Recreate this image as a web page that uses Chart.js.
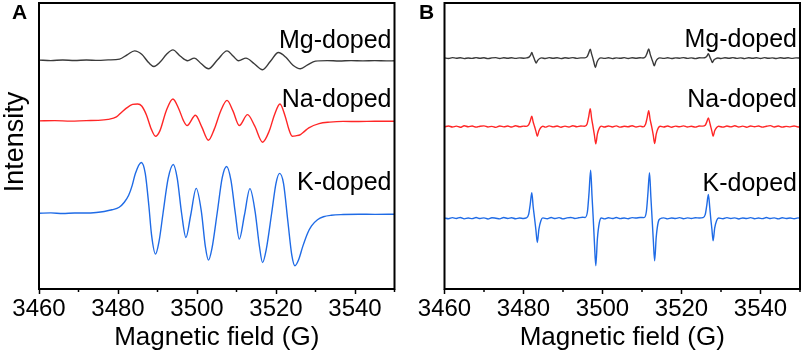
<!DOCTYPE html>
<html lang="en">
  <head>
    <meta charset="utf-8" />
    <title>EPR spectra</title>
    <style>
      * {
        margin: 0;
        padding: 0;
      }
      body {
        width: 803px;
        height: 356px;
        background: white;
        position: relative;
        overflow: hidden;
      }
      canvas {
        position: absolute;
        top: 0;
      }
      #chartA {
        left: 0;
      }
      #chartB {
        left: 400px;
      }
    </style>
  </head>
  <body>
    <canvas id="chartA" width="400" height="356"></canvas>
    <canvas id="chartB" width="403" height="356"></canvas>

    <script src="https://cdn.jsdelivr.net/npm/chart.js@4.4.0/dist/chart.umd.min.js"></script>

    <script>
      // data block: [field (G), intensity relative to own baseline]
      const names = ["Mg-doped", "Na-doped", "K-doped"];
      const fieldTicks = [3460, 3480, 3500, 3520, 3540];

      const fieldA_Mg = [
        [3460, 0.2], [3463, -0.3], [3466, 0.3], [3469, -0.2], [3472, 0.3], [3475, -0.1],
        [3477.5, 0.4], [3480.4, 1.2], [3482.3, 5.5], [3484.2, 9.5], [3486, 6], [3487.8, -2.5],
        [3489.1, -6.2], [3490.6, -2], [3492.3, 6], [3493.9, 10.5], [3495.8, 4], [3497.6, -0.5],
        [3499.3, 2.2], [3501.1, -3.5], [3502.9, -8.5], [3505.2, 0.5], [3507.6, 9.5], [3509.2, 4],
        [3510.5, -0.5], [3512.4, 2.2], [3514.5, -3.5], [3516.6, -9.5], [3518.6, -1], [3520.6, 7.8],
        [3522.5, 3], [3524.3, -5], [3526.2, -8.5], [3528, -4.5], [3530, -0.8], [3533, -0.3],
        [3536, -0.7], [3539, -0.3], [3542, -0.6], [3545, -0.3], [3548, -0.6], [3550, -0.5],
      ];
      const fieldA_Na = [
        [3460, 0], [3464, 0.3], [3468, -0.2], [3472, 0.3], [3475, 0.5], [3477.5, 1.5],
        [3479.6, 4], [3481, 9], [3482.2, 13], [3483.7, 16.5], [3485, 17], [3486, 15],
        [3487.2, 6], [3488.4, -8], [3489.5, -15.4], [3490.6, -10], [3492.2, 10], [3493.9, 22],
        [3495.4, 12], [3496.6, 0], [3497.5, -4.7], [3499.6, 5.6], [3501.2, -6], [3502.9, -19.4],
        [3504.4, -8], [3506, 10], [3507.6, 20.6], [3509.1, 10], [3510.7, -4.7], [3512.8, 6.3],
        [3514.6, -5], [3516.6, -21.4], [3518.3, -10], [3519.6, 6], [3521, 17], [3522.3, 5],
        [3523.3, -9], [3524.1, -15.4], [3525, -15], [3526.2, -13.7], [3527.2, -10.5], [3528.3, -7],
        [3530.9, -2.7], [3533.6, -1.2], [3537, -0.5], [3541, -0.6], [3545, -0.3], [3550, -0.4],
      ];
      const fieldA_K = [
        [3460, 0], [3463, 0.4], [3466, -0.3], [3469, 0.3], [3472, 0.2], [3474.5, 0.8],
        [3476.5, 1.8], [3478.5, 3.5], [3480.3, 6], [3481.6, 11], [3482.7, 18], [3483.6, 28],
        [3484.4, 40], [3485.9, 51], [3486.9, 40], [3487.8, 8], [3488.5, -22], [3489.5, -41],
        [3490.4, -28], [3491.4, 0], [3492.7, 35], [3494, 49], [3495, 35], [3496.1, 0],
        [3497.2, -24.3], [3498.4, -2], [3499.8, 25], [3501.1, 2], [3502.1, -33], [3502.9, -47],
        [3503.8, -35], [3505.1, 0], [3506.4, 36], [3507.5, 47], [3508.6, 33], [3509.7, 0],
        [3510.7, -26], [3512, -2], [3513.4, 24.7], [3514.7, 2], [3515.8, -33], [3516.6, -49.5],
        [3517.5, -37], [3518.9, 0], [3520, 30], [3520.9, 40], [3521.9, 30], [3523, -8],
        [3524, -42], [3524.8, -52.7], [3525.7, -47], [3526.8, -33], [3528, -20], [3529, -12.7],
        [3530.5, -6.5], [3532, -3.5], [3534, -2], [3537, -1.3], [3541, -1], [3545, -1.1], [3550, -1],
      ];

      const fieldB_Mg = [
        [3460, 0.2], [3461, -0.4], [3462, 0.5], [3463, -0.1], [3464, 0.4], [3465, -0.5],
        [3466, 0.1], [3467, -0.3], [3468, 0.5], [3469, -0.2], [3470, 0.3], [3471, -0.5],
        [3472, 0.2], [3473, 0.5], [3474, -0.4], [3475, 0.3], [3476, -0.2], [3477, 0.4],
        [3478, -0.3], [3479, 0.2], [3480, -0.1],
        [3480.8, 0.2], [3481.4, 1], [3481.8, 3], [3482.1, 5.6], [3482.4, 2.5], [3482.65, 0],
        [3482.9, -2.5], [3483.2, -5], [3483.6, -2.2], [3484.1, -0.4], [3484.6, 0.2],
        [3485.5, -0.4], [3486.5, 0.5], [3487.5, -0.2], [3488.5, 0.4], [3489.5, -0.5], [3490.5, 0.3],
        [3491.5, -0.1], [3492.5, 0.5], [3493.5, -0.3], [3494.5, 0.2],
        [3495.5, 0.2], [3496.1, 1.4], [3496.5, 5], [3496.9, 9], [3497.25, 4], [3497.55, 0],
        [3497.85, -4.6], [3498.2, -9.4], [3498.6, -4.2], [3499.1, -0.8], [3499.6, 0.2],
        [3500.5, -0.3], [3501.5, 0.4], [3502.5, -0.5], [3503.5, 0.2], [3504.5, -0.2], [3505.5, 0.5],
        [3506.5, -0.4], [3507.5, 0.3], [3508.5, -0.1], [3509.5, 0.4],
        [3510.3, 0.1], [3510.9, 1.5], [3511.3, 5], [3511.7, 9.3], [3512.05, 4.2], [3512.4, 0],
        [3512.75, -3.8], [3513.1, -7.7], [3513.5, -3.4], [3514, -0.7], [3514.5, 0.2],
        [3515.5, -0.3], [3516.5, 0.4], [3517.5, -0.4], [3518.5, 0.2], [3519.5, -0.1], [3520.5, 0.5],
        [3521.5, -0.3], [3522.5, 0.2], [3523.5, -0.5], [3524.5, 0.3],
        [3525.5, 0.2], [3526.1, 0.8], [3526.5, 2.4], [3526.8, 4.3], [3527.1, 2], [3527.3, 0],
        [3527.55, -2.2], [3527.8, -4.4], [3528.2, -1.9], [3528.7, -0.4], [3529.2, 0.1],
        [3530, -0.4], [3531, 0.3], [3532, -0.2], [3533, 0.5], [3534, -0.3], [3535, 0.2],
        [3536, -0.5], [3537, 0.4], [3538, -0.1], [3539, 0.3], [3540, -0.4], [3541, 0.5],
        [3542, -0.2], [3543, 0.2], [3544, -0.4], [3545, 0.4], [3546, -0.1], [3547, 0.3],
        [3548, -0.3], [3549, 0.2], [3550, 0],
      ];
      const fieldB_Na = [
        [3460, -0.3], [3461, 0.6], [3462, -0.5], [3463, 0.4], [3464, -0.7], [3465, 0.8],
        [3466, -0.2], [3467, 0.5], [3468, -0.6], [3469, 0.3], [3470, 0.7], [3471, -0.4],
        [3472, 0.2], [3473, -0.8], [3474, 0.6], [3475, -0.3], [3476, 0.5], [3477, -0.5],
        [3478, 0.8], [3479, -0.2], [3480, 0.4],
        [3480.7, 0.2], [3481.3, 1.6], [3481.7, 5.6], [3482.1, 10.3], [3482.45, 4.6], [3482.8, 0],
        [3483.15, -4.8], [3483.5, -9.7], [3483.9, -4.4], [3484.4, -1], [3484.9, 0.3],
        [3485.5, -0.6], [3486.5, 0.7], [3487.5, -0.3], [3488.5, 0.5], [3489.5, -0.7], [3490.5, 0.4],
        [3491.5, -0.4], [3492.5, 0.8], [3493.5, -0.2], [3494.5, 0.6],
        [3495.5, 0.3], [3496.1, 2.6], [3496.5, 9.8], [3496.9, 18], [3497.25, 8], [3497.6, 0],
        [3497.95, -8.6], [3498.3, -17.3], [3498.7, -7.6], [3499.2, -1.6], [3499.7, 0.4],
        [3500.5, -0.5], [3501.5, 0.6], [3502.5, -0.4], [3503.5, 0.7], [3504.5, -0.6], [3505.5, 0.3],
        [3506.5, -0.2], [3507.5, 0.8], [3508.5, -0.5], [3509.5, 0.4],
        [3510.3, -0.3], [3510.9, 2.3], [3511.3, 8.8], [3511.7, 16], [3512.05, 7.2], [3512.45, 0],
        [3512.85, -8.5], [3513.2, -17], [3513.6, -7.5], [3514.1, -1.6], [3514.6, 0.3],
        [3515.5, -0.5], [3516.5, 0.6], [3517.5, -0.7], [3518.5, 0.4], [3519.5, -0.2], [3520.5, 0.7],
        [3521.5, -0.5], [3522.5, 0.3], [3523.5, -0.6], [3524.5, 0.5],
        [3525.4, 0.4], [3526, 1.3], [3526.4, 4.7], [3526.8, 8.7], [3527.15, 4], [3527.4, 0],
        [3527.7, -4.8], [3528, -9.7], [3528.4, -4.3], [3528.9, -1], [3529.4, 0.3],
        [3530.5, -0.6], [3531.5, 0.5], [3532.5, -0.3], [3533.5, 0.8], [3534.5, -0.5], [3535.5, 0.4],
        [3536.5, -0.7], [3537.5, 0.6], [3538.5, -0.2], [3539.5, 0.5], [3540.5, -0.6], [3541.5, 0.3],
        [3542.5, 0.9], [3543.5, -0.4], [3544.5, 0.5], [3545.5, -0.6], [3546.5, 0.2], [3547.5, -0.3],
        [3548.5, 0.6], [3549.5, -0.4], [3550, 0],
      ];
      const fieldB_K = [
        [3460, 0.3], [3461, -0.5], [3462, 0.6], [3463, -0.2], [3464, 0.8], [3465, -0.6],
        [3466, 0.2], [3467, -0.4], [3468, 0.7], [3469, -0.3], [3470, 0.4], [3471, -0.7],
        [3472, 0.5], [3473, 0], [3474, -0.6], [3475, 0.7], [3476, -0.2], [3477, 0.5],
        [3478, -0.5], [3479, 0.3], [3480, -0.2],
        [3480.7, 0.3], [3481.3, 3.9], [3481.7, 14], [3482.1, 25.7], [3482.45, 11.5], [3482.8, 0],
        [3483.15, -12], [3483.5, -24.3], [3483.9, -11], [3484.4, -2.5], [3484.9, 0.4],
        [3486, -0.5], [3487, 0.7], [3488, -0.3], [3489, 0.6], [3490, -0.6], [3491, 0.4],
        [3492, 0.8], [3493, -0.2], [3494, 0.5], [3495, 1],
        [3495.6, 0.8], [3496.2, 7], [3496.6, 26], [3497, 48.3], [3497.35, 22], [3497.65, 0],
        [3497.95, -24], [3498.3, -47.7], [3498.7, -21], [3499.2, -4.5], [3499.7, 0.3],
        [3500.5, -0.6], [3501.5, 0.5], [3502.5, -0.3], [3503.5, 0.7], [3504.5, -0.4], [3505.5, 0.3],
        [3506.5, -0.5], [3507.5, 0.6], [3508.5, 0.2], [3509.5, 0.8],
        [3510.5, 0.6], [3511.1, 6.5], [3511.5, 25], [3511.9, 45.7], [3512.25, 21], [3512.55, 0],
        [3512.85, -21], [3513.2, -42.7], [3513.6, -19], [3514.1, -4], [3514.6, -0.5],
        [3515.5, 0.4], [3516.5, -0.6], [3517.5, 0.3], [3518.5, -0.2], [3519.5, 0.6], [3520.5, -0.5],
        [3521.5, 0.4], [3522.5, -0.3], [3523.5, 0.5], [3524.5, 0.2],
        [3525.4, 0.6], [3526, 3.6], [3526.4, 13], [3526.8, 24], [3527.15, 11], [3527.4, 0],
        [3527.7, -11], [3528, -22.7], [3528.4, -10], [3528.9, -2.3], [3529.4, 0.2],
        [3530.5, -0.5], [3531.5, 0.6], [3532.5, -0.3], [3533.5, 0.4], [3534.5, -0.7], [3535.5, 0.3],
        [3536.5, -0.2], [3537.5, 0.6], [3538.5, -0.5], [3539.5, 0.2], [3540.5, -0.4], [3541.5, 0.7],
        [3542.5, -0.3], [3543.5, 0.4], [3544.5, -0.6], [3545.5, 0.5], [3546.5, -0.2], [3547.5, 0.3],
        [3548.5, -0.5], [3549.5, 0.4], [3550, 0],
      ];

      // vertical stacking of the three spectra in each panel
      const offsetsA = [229.5, 168.7, 76];
      const offsetsB = [231.7, 163, 71];

      const colors = ["#3a3a3a", "#ff2626", "#1f6be6"];
      const FONT = "'Liberation Sans', Arial, sans-serif";

      // frame, minor ticks, curve labels, panel letter
      const decor = {
        id: "decor",
        afterDraw(chart, args, opt) {
          const { ctx, chartArea: a, scales } = chart;
          const x = scales.x;
          ctx.save();

          // minor ticks
          ctx.strokeStyle = "#000";
          ctx.lineWidth = 1.5;
          for (let v = 3470; v <= 3550; v += 20) {
            const px = x.getPixelForValue(v);
            ctx.beginPath();
            ctx.moveTo(px, a.bottom);
            ctx.lineTo(px, a.bottom + 3);
            ctx.stroke();
          }

          // box
          ctx.lineWidth = 2;
          ctx.strokeRect(a.left, a.top, a.right - a.left, a.bottom - a.top);

          // curve names
          ctx.fillStyle = "#000";
          ctx.font = "25px " + FONT;
          ctx.textAlign = "right";
          ctx.textBaseline = "alphabetic";
          names.forEach((n, i) => {
            ctx.fillText(n, a.right - 3, opt.labelY[i]);
          });

          // panel letter
          ctx.font = "bold 21px " + FONT;
          ctx.textAlign = "left";
          ctx.fillText(opt.letter, opt.letterX, 19);

          if (opt.yTitle) {
            ctx.translate(16, 142);
            ctx.rotate(-Math.PI / 2);
            ctx.textAlign = "center";
            ctx.textBaseline = "middle";
            ctx.font = "27px " + FONT;
            ctx.fillText("Intensity", 0, 0);
          }
          ctx.restore();
        },
      };

      function makeChart(id, spectra, offsets, pad, decorOpt) {
        const datasets = spectra.map((pts, i) => ({
          label: names[i],
          data: pts.map((p) => ({ x: p[0], y: p[1] + offsets[i] })),
          borderColor: colors[i],
          borderWidth: 1.4,
          pointRadius: 0,
          cubicInterpolationMode: "monotone",
          fill: false,
        }));

        return new Chart(document.getElementById(id), {
          type: "line",
          data: { datasets },
          options: {
            responsive: false,
            animation: false,
            devicePixelRatio: 1,
            layout: { padding: pad },
            plugins: {
              legend: { display: false },
              tooltip: { enabled: false },
              decor: decorOpt,
            },
            scales: {
              x: {
                type: "linear",
                min: 3460,
                max: 3550,
                border: { display: false },
                grid: {
                  drawOnChartArea: false,
                  tickLength: 5,
                  tickWidth: 1.5,
                  tickColor: (c) =>
                    fieldTicks.includes(c.tick.value) ? "#000" : "rgba(0,0,0,0)",
                },
                ticks: {
                  stepSize: 10,
                  autoSkip: false,
                  maxRotation: 0,
                  padding: 1,
                  color: "#000",
                  font: { family: FONT, size: 24 },
                  callback: (v) => (fieldTicks.includes(v) ? String(v) : ""),
                },
                title: {
                  display: true,
                  text: "Magnetic field (G)",
                  color: "#000",
                  font: { family: FONT, size: 26 },
                  padding: { top: -3, bottom: 0 },
                },
              },
              y: {
                display: false,
                min: 0,
                max: 287,
              },
            },
          },
          plugins: [decor],
        });
      }

      makeChart(
        "chartA",
        [fieldA_Mg, fieldA_Na, fieldA_K],
        offsetsA,
        { left: 39, right: 5.5, top: 3, bottom: 3 },
        { labelY: [48, 107, 190], letter: "A", letterX: 12, yTitle: true }
      );
      makeChart(
        "chartB",
        [fieldB_Mg, fieldB_Na, fieldB_K],
        offsetsB,
        { left: 44.5, right: 3, top: 3, bottom: 3 },
        { labelY: [47, 107, 191], letter: "B", letterX: 19, yTitle: false }
      );
    </script>
  </body>
</html>
